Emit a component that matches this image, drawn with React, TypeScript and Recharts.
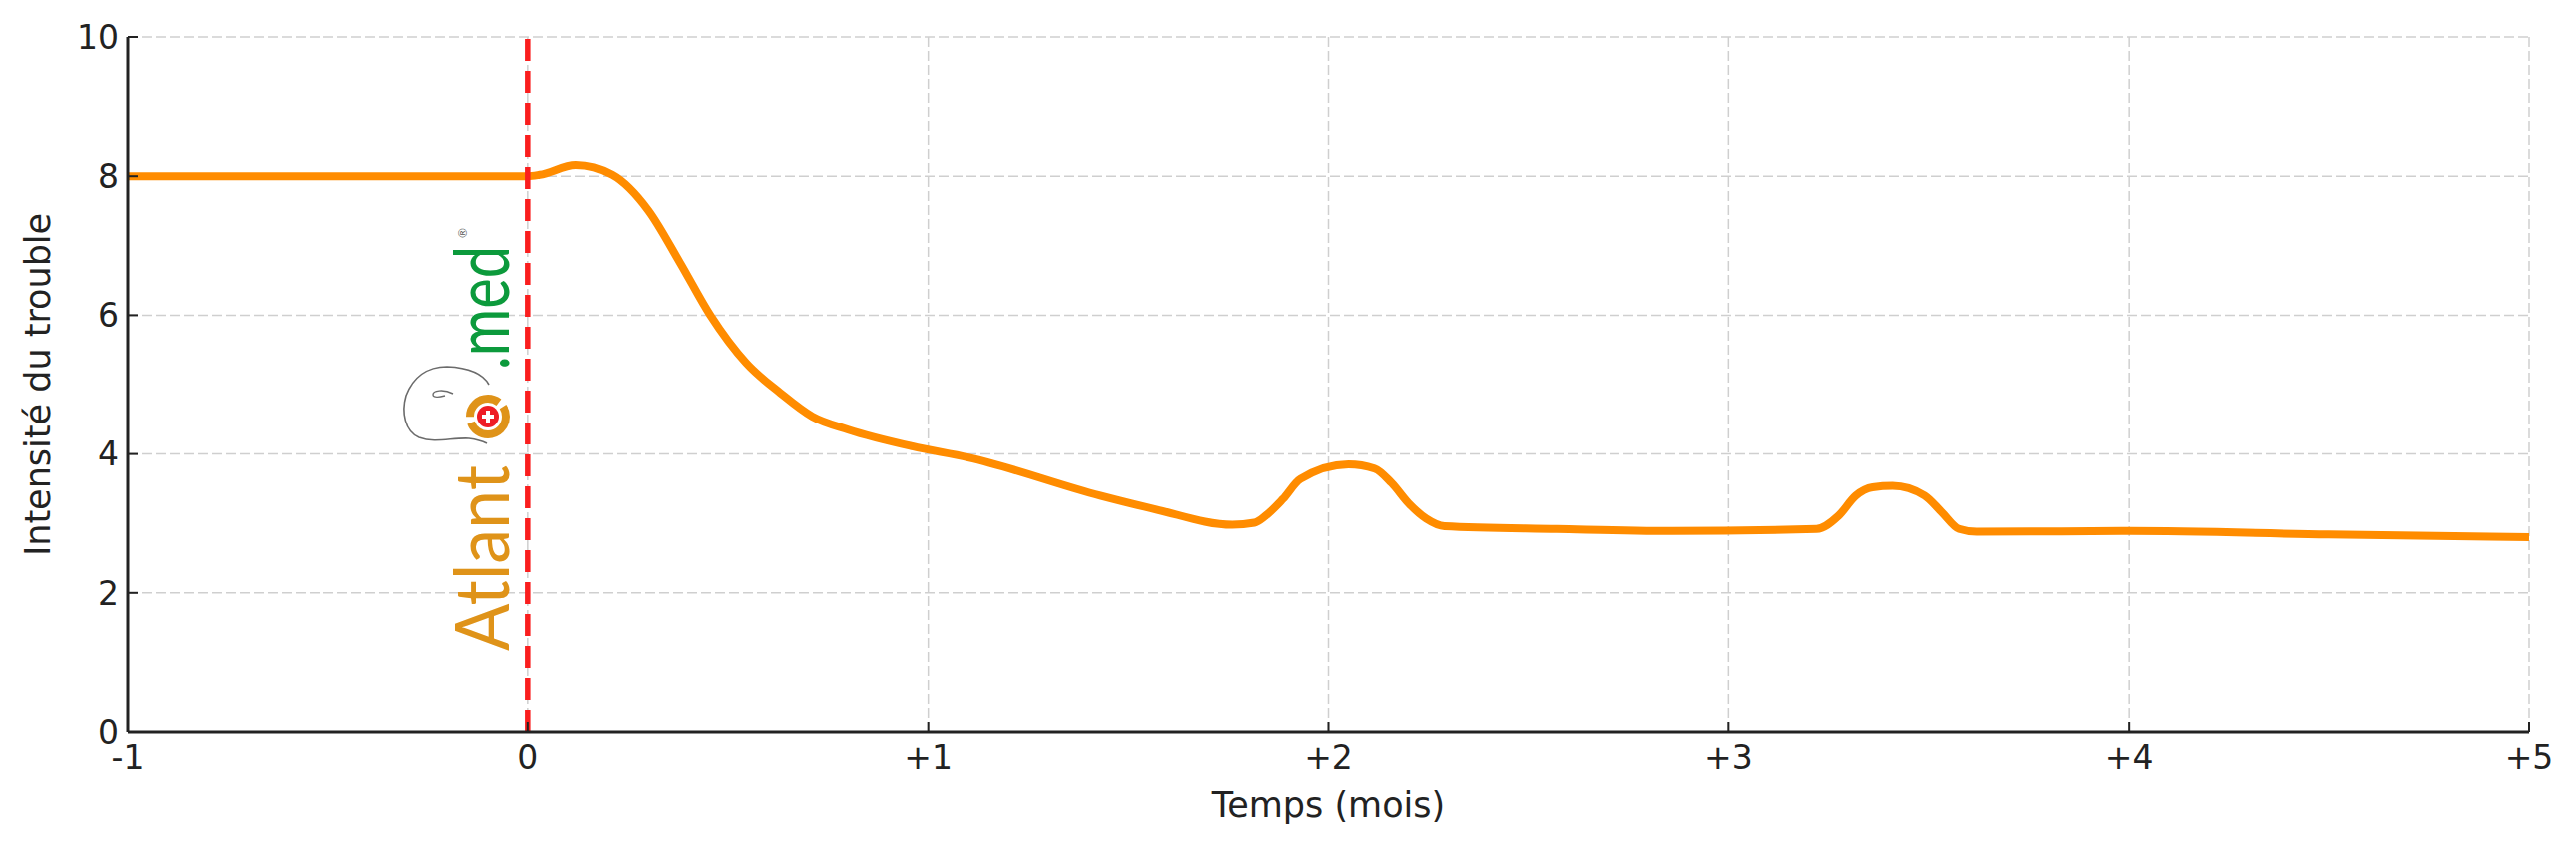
import React from "react";
import { LineChart, Line, XAxis, YAxis, CartesianGrid, ReferenceLine } from "recharts";

// time in months relative to start of treatment
const months = [
	-1, -0.5, 0, 0.03, 0.12, 0.21, 0.3, 0.38, 0.455, 0.545, 0.63, 0.71, 0.8, 0.96, 1.1, 1.43, 1.57, 1.76, 1.815, 1.843,
	1.886, 1.93, 2.05, 2.115, 2.158, 2.2, 2.244, 2.29, 2.57, 2.86, 3.22, 3.275, 3.318, 3.36, 3.41, 3.49, 3.533, 3.576,
	3.62, 4.0, 4.5, 5.0,
];
// perceived intensity of the disorder
const intensity = [
	8.0, 8.0, 8.0, 8.02, 8.16, 8.02, 7.51, 6.75, 6.0, 5.31, 4.88, 4.54, 4.35, 4.11, 3.95, 3.4, 3.2, 2.98, 3.01, 3.11, 3.35,
	3.64, 3.85, 3.79, 3.58, 3.29, 3.07, 2.96, 2.92, 2.89, 2.92, 3.11, 3.4, 3.52, 3.54, 3.4, 3.16, 2.92, 2.88, 2.89, 2.84,
	2.8,
];
const xTicks = [-1, 0, 1, 2, 3, 4, 5];
const yTicks = [0, 2, 4, 6, 8, 10];

const data = months.map((t, i) => ({ t, v: intensity[i] }));

const font = "'DejaVu Sans', sans-serif";
const W = 2564;
const H = 831;

const fmtMonth = (v: number) => (v > 0 ? `+${v}` : `${v}`);

const Logo: React.FC = () => (
	<svg width={W} height={H} style={{ position: "absolute", left: 0, top: 0, pointerEvents: "none" }}>
		<path
			d="M482,377 C476,366 462,360 440,359 C420,359 406,370 399,388 C394,405 398,424 412,430 C428,436 445,430 462,431 C470,432 476,434 480,436"
			fill="none"
			stroke="#6b6b6b"
			strokeWidth={1.6}
		/>
		<path d="M446,386 C436,381 426,383 426,387 C426,391 434,389 438,388" fill="none" stroke="#6b6b6b" strokeWidth={1.4} />
		<text
			x={502}
			y={644}
			transform="rotate(-90 502 644)"
			fontFamily="Lato, 'Noto Sans', sans-serif"
			fontWeight={400}
			fontSize={76}
			fill="#df9319"
			textLength={186}
			lengthAdjust="spacingAndGlyphs"
		>
			Atlant
		</text>
		<circle cx={481} cy={409} r={18} fill="none" stroke="#df9319" strokeWidth={8} strokeDasharray="50 6 40 6" />
		<circle cx={481} cy={409} r={11} fill="#ee1c25" />
		<rect x={475} y={407} width={12} height={4} fill="#fff" />
		<rect x={479} y={403} width={4} height={12} fill="#fff" />
		<text
			x={502}
			y={362}
			transform="rotate(-90 502 362)"
			fontFamily="Lato, 'Noto Sans', sans-serif"
			fontWeight={400}
			fontSize={76}
			fill="#0c9a3c"
			textLength={124}
			lengthAdjust="spacingAndGlyphs"
		>
			.med
		</text>
		<text x={455} y={235} fontFamily="Lato, sans-serif" fontSize={12} fill="#555" transform="rotate(-90 455 230)">
			®
		</text>
	</svg>
);

export default function App() {
	return (
		<div style={{ position: "relative", width: W, height: H }}>
			<LineChart width={W} height={H} data={data} margin={{ top: 29, right: 39, left: 0, bottom: 26 }}>
				<CartesianGrid stroke="#cfcfcf" strokeWidth={1.5} strokeDasharray="10 4" />
				<XAxis
					dataKey="t"
					type="number"
					domain={[-1, 5]}
					ticks={xTicks}
					interval={0}
					tickFormatter={fmtMonth}
					height={80}
					tickSize={-10}
					tickMargin={24}
					stroke="#222"
					axisLine={{ stroke: "#222", strokeWidth: 3 }}
					tickLine={{ stroke: "#222", strokeWidth: 2 }}
					tick={{ fill: "#222", fontSize: 33, fontFamily: font }}
					label={{ value: "Temps (mois)", position: "insideBottom", offset: -5, fill: "#222", fontSize: 35, fontFamily: font }}
				/>
				<YAxis
					type="number"
					domain={[0, 10]}
					ticks={yTicks}
					interval={0}
					width={120}
					tickSize={-10}
					tickMargin={19}
					stroke="#222"
					axisLine={{ stroke: "#222", strokeWidth: 3 }}
					tickLine={{ stroke: "#222", strokeWidth: 2 }}
					tick={{ fill: "#222", fontSize: 33, fontFamily: font }}
					label={{
						value: "Intensité du trouble",
						angle: -90,
						position: "insideLeft",
						offset: 30,
						fill: "#222",
						fontSize: 35,
						fontFamily: font,
						style: { textAnchor: "middle" },
					}}
				/>
				<Line type="monotone" dataKey="v" stroke="#ff8c00" strokeWidth={8} dot={false} activeDot={false} isAnimationActive={false} />
				<ReferenceLine x={0} stroke="#fa1e1e" strokeWidth={5.5} strokeDasharray="22 10" />
			</LineChart>
			<Logo />
		</div>
	);
}
